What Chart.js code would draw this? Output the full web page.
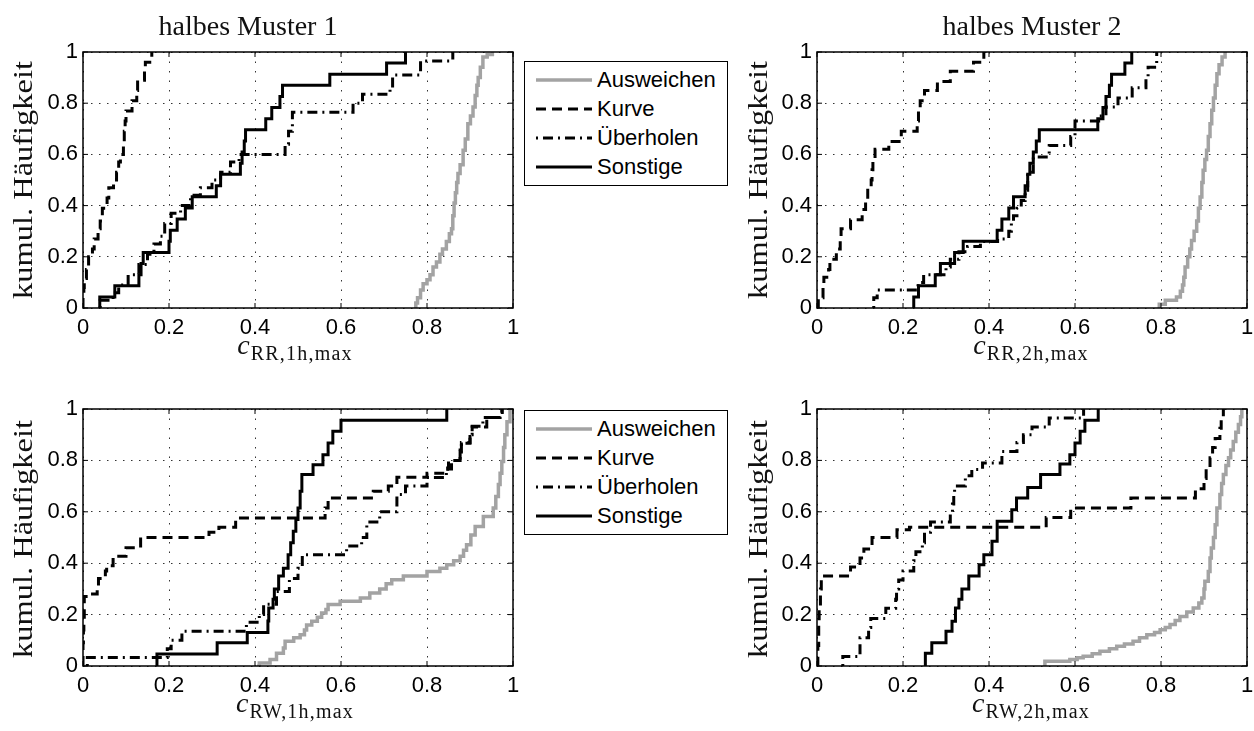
<!DOCTYPE html>
<html>
<head>
<meta charset="utf-8">
<script src="https://cdn.jsdelivr.net/npm/chart.js@4.4.1/dist/chart.umd.min.js"></script>
<style>
  body { margin: 0; background: #fff; width: 1254px; height: 731px; position: relative; overflow: hidden; }
  .panel { position: absolute; }
  .panel canvas { display: block; }
  .serif { position: absolute; font-family: 'Liberation Serif', 'Times New Roman', serif; color: #111; white-space: nowrap; }
  .title { font-size: 28px; line-height: 28px; transform: translateX(-50%); }
  .ylab { font-size: 27px; line-height: 27px; }
  .xlab { font-size: 26px; line-height: 26px; transform: translateX(-50%); }
  .xlab i { font-size: 28px; }
  .xlab .sub { font-size: 20px; letter-spacing: 1.2px; position: relative; top: 6px; margin-left: 1px; }
  .legend { position: absolute; width: 204px; height: 125px; border: 1.5px solid #000; background: #fff; box-sizing: border-box;
            font-family: 'Liberation Sans', Arial, sans-serif; font-size: 22px; color: #000; padding-top: 3px; }
  .legend .row { height: 29px; display: flex; align-items: center; }
  .legend svg { margin-left: 11px; margin-right: 5px; }
</style>
</head>
<body>
<div class="panel" style="left:0;top:37px"><canvas id="p1" width="525" height="310"></canvas></div>
<div class="panel" style="left:734px;top:37px"><canvas id="p2" width="520" height="310"></canvas></div>
<div class="panel" style="left:0;top:394px"><canvas id="p3" width="525" height="310"></canvas></div>
<div class="panel" style="left:734px;top:394px"><canvas id="p4" width="520" height="310"></canvas></div>

<div class="serif title" style="left:248px;top:12px">halbes Muster 1</div>
<div class="serif title" style="left:1032px;top:12px">halbes Muster 2</div>

<div class="serif ylab" style="left:23px;top:180px">kumul. Häufigkeit</div>
<div class="serif ylab" style="left:758px;top:180px">kumul. Häufigkeit</div>
<div class="serif ylab" style="left:23px;top:539px">kumul. Häufigkeit</div>
<div class="serif ylab" style="left:758px;top:539px">kumul. Häufigkeit</div>

<div class="serif xlab" style="left:295px;top:332px"><i>c</i><span class="sub">RR,1h,max</span></div>
<div class="serif xlab" style="left:1031px;top:332px"><i>c</i><span class="sub">RR,2h,max</span></div>
<div class="serif xlab" style="left:295px;top:690px"><i>c</i><span class="sub">RW,1h,max</span></div>
<div class="serif xlab" style="left:1031px;top:690px"><i>c</i><span class="sub">RW,2h,max</span></div>

<div class="legend" id="leg1" style="left:524px;top:61px"></div>
<div class="legend" id="leg2" style="left:524px;top:410px"></div>

<script>
const seriesNames = ['Ausweichen', 'Kurve', 'Überholen', 'Sonstige'];
const tickLabels = ['0', '0.2', '0.4', '0.6', '0.8', '1'];

// halbes Muster 1, c_RR,1h,max  -- [x, kumul. Häufigkeit]
const rr1Ausweichen = [[0.772,0],[0.774,0.02],[0.778,0.04],[0.785,0.07],[0.791,0.095],[0.8,0.11],[0.807,0.13],[0.814,0.16],[0.822,0.18],[0.83,0.21],[0.836,0.23],[0.845,0.26],[0.852,0.29],[0.857,0.31],[0.86,0.36],[0.863,0.41],[0.866,0.45],[0.869,0.49],[0.872,0.525],[0.877,0.56],[0.884,0.616],[0.889,0.66],[0.895,0.72],[0.901,0.75],[0.907,0.785],[0.912,0.83],[0.916,0.87],[0.919,0.9],[0.924,0.94],[0.93,0.98],[0.94,0.99],[0.952,1]];
const rr1Kurve = [[0,0],[0,0.04],[0.002,0.08],[0.003,0.115],[0.008,0.15],[0.013,0.2],[0.022,0.23],[0.026,0.27],[0.035,0.31],[0.04,0.34],[0.045,0.39],[0.056,0.43],[0.06,0.47],[0.071,0.5],[0.078,0.53],[0.083,0.57],[0.087,0.6],[0.094,0.65],[0.096,0.69],[0.098,0.73],[0.1,0.77],[0.114,0.81],[0.125,0.85],[0.127,0.89],[0.143,0.93],[0.145,0.96],[0.16,1]];
const rr1Ueberholen = [[0.04,0],[0.04,0.03],[0.07,0.06],[0.083,0.09],[0.105,0.13],[0.13,0.17],[0.15,0.21],[0.165,0.25],[0.18,0.28],[0.19,0.33],[0.205,0.37],[0.227,0.4],[0.25,0.44],[0.273,0.47],[0.3,0.5],[0.32,0.53],[0.343,0.57],[0.363,0.6],[0.47,0.64],[0.478,0.69],[0.487,0.765],[0.628,0.8],[0.65,0.835],[0.714,0.86],[0.72,0.91],[0.785,0.965],[0.86,1]];
const rr1Sonstige = [[0.039,0],[0.039,0.043],[0.074,0.087],[0.13,0.13],[0.135,0.174],[0.14,0.217],[0.2,0.261],[0.203,0.304],[0.219,0.348],[0.238,0.391],[0.254,0.435],[0.31,0.478],[0.32,0.522],[0.366,0.565],[0.37,0.609],[0.375,0.652],[0.378,0.696],[0.425,0.739],[0.439,0.783],[0.458,0.826],[0.464,0.87],[0.574,0.913],[0.706,0.957],[0.75,1]];

// halbes Muster 2, c_RR,2h,max
const rr2Ausweichen = [[0.794,0],[0.796,0.015],[0.81,0.03],[0.836,0.043],[0.845,0.065],[0.85,0.09],[0.853,0.12],[0.856,0.16],[0.862,0.2],[0.867,0.23],[0.871,0.264],[0.877,0.3],[0.883,0.34],[0.887,0.39],[0.891,0.434],[0.895,0.49],[0.898,0.538],[0.902,0.58],[0.906,0.616],[0.91,0.67],[0.914,0.72],[0.918,0.772],[0.922,0.82],[0.926,0.87],[0.93,0.915],[0.935,0.95],[0.942,0.98],[0.949,1]];
const rr2Kurve = [[0,0],[0.003,0.04],[0.014,0.08],[0.016,0.12],[0.027,0.15],[0.03,0.19],[0.045,0.23],[0.054,0.27],[0.056,0.31],[0.078,0.345],[0.105,0.385],[0.113,0.42],[0.118,0.46],[0.126,0.5],[0.128,0.54],[0.13,0.58],[0.135,0.62],[0.167,0.65],[0.196,0.69],[0.233,0.73],[0.236,0.77],[0.24,0.81],[0.25,0.85],[0.28,0.885],[0.31,0.925],[0.364,0.96],[0.388,1]];
const rr2Ueberholen = [[0.132,0],[0.132,0.04],[0.14,0.07],[0.235,0.1],[0.248,0.13],[0.3,0.16],[0.31,0.19],[0.33,0.22],[0.35,0.24],[0.38,0.26],[0.42,0.27],[0.446,0.3],[0.452,0.33],[0.457,0.36],[0.465,0.39],[0.475,0.42],[0.484,0.46],[0.49,0.53],[0.503,0.59],[0.54,0.635],[0.59,0.67],[0.6,0.73],[0.655,0.75],[0.672,0.785],[0.7,0.82],[0.733,0.86],[0.765,0.9],[0.77,0.94],[0.79,0.97],[0.79,1]];
const rr2Sonstige = [[0.225,0],[0.225,0.043],[0.236,0.087],[0.275,0.13],[0.287,0.174],[0.32,0.217],[0.34,0.261],[0.419,0.304],[0.43,0.348],[0.446,0.391],[0.457,0.435],[0.484,0.478],[0.49,0.522],[0.495,0.565],[0.503,0.609],[0.51,0.652],[0.517,0.696],[0.653,0.739],[0.665,0.783],[0.672,0.826],[0.68,0.87],[0.685,0.913],[0.716,0.957],[0.732,1]];

// halbes Muster 1, c_RW,1h,max
const rw1Ausweichen = [[0.405,0],[0.41,0.012],[0.435,0.025],[0.45,0.05],[0.466,0.07],[0.47,0.096],[0.49,0.11],[0.505,0.122],[0.515,0.14],[0.52,0.16],[0.532,0.174],[0.545,0.19],[0.555,0.206],[0.565,0.22],[0.57,0.239],[0.598,0.252],[0.645,0.265],[0.667,0.284],[0.69,0.3],[0.705,0.32],[0.718,0.336],[0.745,0.35],[0.8,0.368],[0.83,0.38],[0.846,0.394],[0.862,0.41],[0.877,0.427],[0.885,0.45],[0.892,0.472],[0.902,0.51],[0.912,0.543],[0.931,0.582],[0.954,0.615],[0.96,0.66],[0.966,0.706],[0.97,0.75],[0.974,0.796],[0.978,0.85],[0.981,0.9],[0.986,0.95],[0.993,1]];
const rw1Kurve = [[0,0],[0,0.04],[0,0.09],[0.001,0.14],[0.002,0.19],[0.003,0.27],[0.018,0.28],[0.033,0.31],[0.036,0.34],[0.052,0.37],[0.055,0.39],[0.07,0.427],[0.1,0.46],[0.134,0.5],[0.293,0.52],[0.316,0.54],[0.355,0.576],[0.563,0.615],[0.57,0.654],[0.675,0.68],[0.71,0.7],[0.73,0.734],[0.8,0.75],[0.848,0.77],[0.85,0.8],[0.877,0.84],[0.88,0.87],[0.9,0.9],[0.905,0.93],[0.939,0.967],[0.974,1]];
const rw1Ueberholen = [[0.01,0],[0.01,0.033],[0.196,0.067],[0.205,0.1],[0.23,0.135],[0.38,0.17],[0.41,0.2],[0.42,0.24],[0.45,0.29],[0.48,0.34],[0.5,0.38],[0.51,0.433],[0.613,0.467],[0.648,0.5],[0.66,0.56],[0.69,0.6],[0.73,0.667],[0.75,0.7],[0.8,0.733],[0.845,0.767],[0.857,0.8],[0.877,0.833],[0.88,0.867],[0.9,0.9],[0.905,0.933],[0.93,0.967],[0.97,0.98],[0.975,1]];
const rw1Sonstige = [[0.172,0],[0.172,0.047],[0.312,0.09],[0.382,0.13],[0.43,0.175],[0.432,0.226],[0.442,0.26],[0.445,0.3],[0.455,0.35],[0.466,0.38],[0.477,0.433],[0.483,0.48],[0.489,0.524],[0.495,0.57],[0.5,0.615],[0.505,0.68],[0.509,0.745],[0.535,0.783],[0.558,0.822],[0.57,0.868],[0.581,0.913],[0.6,0.956],[0.846,1]];

// halbes Muster 2, c_RW,2h,max
const rw2Ausweichen = [[0.53,0],[0.53,0.018],[0.588,0.025],[0.605,0.032],[0.619,0.038],[0.64,0.048],[0.658,0.057],[0.68,0.067],[0.697,0.077],[0.715,0.086],[0.735,0.096],[0.75,0.11],[0.767,0.122],[0.785,0.13],[0.798,0.141],[0.81,0.15],[0.821,0.161],[0.833,0.177],[0.844,0.193],[0.86,0.21],[0.875,0.226],[0.888,0.245],[0.895,0.265],[0.9,0.3],[0.902,0.33],[0.91,0.368],[0.914,0.42],[0.917,0.459],[0.922,0.5],[0.926,0.55],[0.93,0.615],[0.937,0.667],[0.941,0.71],[0.945,0.745],[0.951,0.78],[0.957,0.81],[0.962,0.84],[0.968,0.874],[0.974,0.91],[0.98,0.94],[0.985,0.97],[0.988,1]];
const rw2Kurve = [[0,0],[0.002,0.08],[0.004,0.16],[0.005,0.23],[0.008,0.3],[0.01,0.35],[0.078,0.385],[0.1,0.42],[0.109,0.455],[0.128,0.5],[0.186,0.53],[0.215,0.54],[0.533,0.578],[0.59,0.615],[0.73,0.654],[0.88,0.69],[0.9,0.73],[0.905,0.77],[0.914,0.81],[0.92,0.85],[0.926,0.885],[0.937,0.925],[0.94,0.965],[0.945,1]];
const rw2Ueberholen = [[0.06,0],[0.06,0.037],[0.1,0.075],[0.1,0.11],[0.12,0.15],[0.125,0.185],[0.16,0.225],[0.183,0.26],[0.185,0.3],[0.19,0.335],[0.2,0.37],[0.225,0.41],[0.23,0.445],[0.245,0.48],[0.25,0.52],[0.264,0.56],[0.31,0.59],[0.315,0.63],[0.318,0.665],[0.32,0.7],[0.345,0.74],[0.36,0.765],[0.385,0.79],[0.43,0.835],[0.465,0.87],[0.48,0.9],[0.5,0.93],[0.54,0.965],[0.62,1]];
const rw2Sonstige = [[0.252,0],[0.252,0.05],[0.267,0.09],[0.3,0.135],[0.314,0.174],[0.322,0.226],[0.33,0.26],[0.337,0.3],[0.353,0.35],[0.377,0.394],[0.388,0.433],[0.407,0.485],[0.419,0.563],[0.453,0.608],[0.464,0.654],[0.49,0.695],[0.52,0.745],[0.565,0.786],[0.588,0.822],[0.6,0.868],[0.612,0.913],[0.623,0.956],[0.654,1]];

const lineStyles = [
  { color: '#a3a3a3', width: 3.5, dash: [] },
  { color: '#000', width: 3, dash: [10, 6] },
  { color: '#000', width: 3, dash: [2, 5, 10, 5] },
  { color: '#000', width: 3, dash: [] }
];

Chart.defaults.font.family = "'Liberation Sans', Arial, sans-serif";
Chart.defaults.font.size = 22;
Chart.defaults.color = '#000';

// matlab-like axes box with inward ticks
const boxPlugin = {
  id: 'box',
  afterDatasetsDraw(chart) {
    const { ctx, chartArea: a, scales } = chart;
    ctx.save();
    ctx.strokeStyle = '#000';
    ctx.lineWidth = 1.5;
    ctx.setLineDash([]);
    ctx.strokeRect(a.left, a.top, a.right - a.left, a.bottom - a.top);
    ctx.lineWidth = 1;
    ctx.beginPath();
    scales.x.ticks.forEach(t => {
      const px = scales.x.getPixelForValue(t.value);
      ctx.moveTo(px, a.bottom); ctx.lineTo(px, a.bottom - 5);
      ctx.moveTo(px, a.top); ctx.lineTo(px, a.top + 5);
    });
    scales.y.ticks.forEach(t => {
      const py = scales.y.getPixelForValue(t.value);
      ctx.moveTo(a.left, py); ctx.lineTo(a.left + 5, py);
      ctx.moveTo(a.right, py); ctx.lineTo(a.right - 5, py);
    });
    ctx.stroke();
    ctx.restore();
  }
};

function makePanel(id, series, xHeight, padRight) {
  new Chart(document.getElementById(id), {
    type: 'line',
    data: {
      datasets: series.map((d, i) => ({
        label: seriesNames[i],
        data: d,
        borderColor: lineStyles[i].color,
        borderWidth: lineStyles[i].width,
        borderDash: lineStyles[i].dash,
        stepped: 'before',   // ecdf: hold level, then jump
        pointRadius: 0,
        fill: false,
        order: 3 - i
      }))
    },
    options: {
      responsive: false,
      animation: false,
      devicePixelRatio: 1,
      layout: { padding: { top: 15, right: padRight, left: 0, bottom: 0 } },
      plugins: { legend: { display: false }, tooltip: { enabled: false } },
      scales: {
        x: {
          type: 'linear', min: 0, max: 1,
          ticks: { stepSize: 0.2, padding: 7, callback: (v, i) => tickLabels[i] },
          grid: { color: 'rgba(0,0,0,0.8)', lineWidth: 1, drawTicks: false },
          border: { display: false, dash: [1.5, 8] },
          afterFit(s) { s.height = xHeight; s.paddingLeft = 0; s.paddingRight = 0; }
        },
        y: {
          type: 'linear', min: 0, max: 1,
          ticks: { stepSize: 0.2, padding: 5, callback: (v, i) => tickLabels[i] },
          grid: { color: 'rgba(0,0,0,0.8)', lineWidth: 1, drawTicks: false },
          border: { display: false, dash: [1.5, 6.5] },
          afterFit(s) { s.width = 83; s.paddingTop = 0; s.paddingBottom = 0; }
        }
      }
    },
    plugins: [boxPlugin]
  });
}

makePanel('p1', [rr1Ausweichen, rr1Kurve, rr1Ueberholen, rr1Sonstige], 39, 12);
makePanel('p2', [rr2Ausweichen, rr2Kurve, rr2Ueberholen, rr2Sonstige], 39, 7);
makePanel('p3', [rw1Ausweichen, rw1Kurve, rw1Ueberholen, rw1Sonstige], 38, 12);
makePanel('p4', [rw2Ausweichen, rw2Kurve, rw2Ueberholen, rw2Sonstige], 38, 7);

// legends
function buildLegend(el) {
  seriesNames.forEach((name, i) => {
    const st = lineStyles[i];
    const row = document.createElement('div');
    row.className = 'row';
    row.innerHTML = '<svg width="56" height="6"><line x1="0" y1="3" x2="56" y2="3" stroke="' + st.color +
      '" stroke-width="' + st.width + '" stroke-dasharray="' + (st.dash.length ? st.dash.join(' ') : 'none') + '"/></svg>';
    row.appendChild(document.createTextNode(name));
    el.appendChild(row);
  });
}
buildLegend(document.getElementById('leg1'));
buildLegend(document.getElementById('leg2'));

// rotated y labels, stretched to the length seen in the figure
document.querySelectorAll('.ylab').forEach(el => {
  const k = 238 / el.offsetWidth;
  el.style.transform = 'translate(-50%, -50%) rotate(-90deg) scaleX(' + k.toFixed(3) + ')';
});
</script>
</body>
</html>
